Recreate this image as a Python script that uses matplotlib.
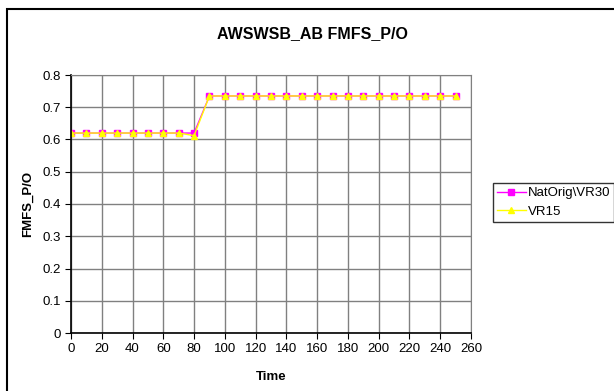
import numpy as np
import matplotlib.pyplot as plt
from matplotlib.patches import Rectangle

plt.rcParams['font.family'] = ['Liberation Sans', 'DejaVu Sans']

# データ
time = [0, 10, 20, 30, 40, 50, 60, 70, 80, 90, 100, 110, 120, 130, 140, 150,
        160, 170, 180, 190, 200, 210, 220, 230, 240, 250]
natorig_vr30 = [0.62, 0.62, 0.62, 0.62, 0.62, 0.62, 0.62, 0.62, 0.62, 0.735,
                0.735, 0.735, 0.735, 0.735, 0.735, 0.735, 0.735, 0.735, 0.735,
                0.735, 0.735, 0.735, 0.735, 0.735, 0.735, 0.735]
vr15 = [0.62, 0.62, 0.62, 0.62, 0.62, 0.62, 0.62, 0.62, 0.612, 0.735,
        0.735, 0.735, 0.735, 0.735, 0.735, 0.735, 0.735, 0.735, 0.735,
        0.735, 0.735, 0.735, 0.735, 0.735, 0.735, 0.735]

fig = plt.figure(figsize=(6.14, 3.91), dpi=100)

# 外枠
fig.patches.append(Rectangle((7 / 614, -0.05), 1.1, 1 - 9 / 391 + 0.05,
                             transform=fig.transFigure, fill=False,
                             edgecolor='black', linewidth=1.5))

ax = fig.add_axes([71 / 614, 1 - 333 / 391, 400 / 614, 258 / 391])

ax.plot(time, natorig_vr30, color='#FF00FF', marker='s', markersize=4,
        linewidth=1, label='NatOrig\\VR30')
ax.plot(time, vr15, color='#FFFF00', marker='^', markersize=5,
        linewidth=1, label='VR15')

ax.set_xlim(0, 260)
ax.set_ylim(0, 0.8)
ax.set_xticks(np.arange(0, 261, 20))
ax.set_yticks(np.arange(0, 0.81, 0.1))
ax.set_yticklabels(['0', '0.1', '0.2', '0.3', '0.4', '0.5', '0.6', '0.7', '0.8'])

ax.grid(True, color='#808080', linewidth=1)
ax.set_axisbelow(True)
for s in ['top', 'right']:
    ax.spines[s].set_color('#808080')
for s in ['left', 'bottom']:
    ax.spines[s].set_color('black')
    ax.spines[s].set_linewidth(1.2)
ax.tick_params(direction='out', length=4, labelsize=9.5, pad=3)

fig.text(312 / 614, 1 - 34 / 391, 'AWSWSB_AB FMFS_P/O', ha='center', va='center',
         fontsize=11.5, fontweight='bold')
fig.text(28 / 614, 1 - 204 / 391, 'FMFS_P/O', ha='center', va='center',
         rotation=90, fontsize=9.5, fontweight='bold')
fig.text(271 / 614, 1 - 377 / 391, 'Time', ha='center', va='center',
         fontsize=9.5, fontweight='bold')

leg = fig.legend(loc='upper left', bbox_to_anchor=(493 / 614, 1 - 183 / 391),
                 fontsize=9.5, frameon=True, fancybox=False, edgecolor='black',
                 borderpad=0.3, handlelength=2.2, handletextpad=0.15,
                 labelspacing=0.5, borderaxespad=0)
leg.get_frame().set_linewidth(1)

plt.savefig('out.png', dpi=100)
